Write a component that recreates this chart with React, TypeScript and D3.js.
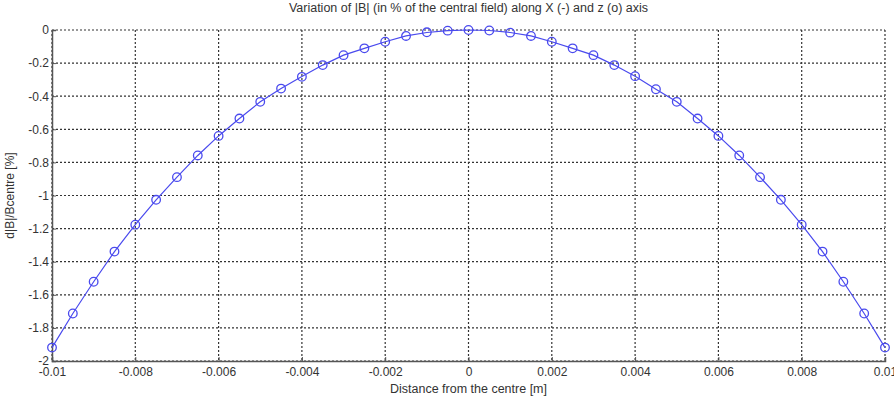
import React, { useEffect, useRef } from "react";
import * as d3 from "d3";

// positions along the axis [m]
const distance = [
  -0.01, -0.0095, -0.009, -0.0085, -0.008, -0.0075, -0.007, -0.0065, -0.006, -0.0055,
  -0.005, -0.0045, -0.004, -0.0035, -0.003, -0.0025, -0.002, -0.0015, -0.001, -0.0005,
  0, 0.0005, 0.001, 0.0015, 0.002, 0.0025, 0.003, 0.0035, 0.004, 0.0045,
  0.005, 0.0055, 0.006, 0.0065, 0.007, 0.0075, 0.008, 0.0085, 0.009, 0.0095, 0.01,
];

// dB/Bcentre along X (line)
const alongX = [
  -1.919, -1.713, -1.521, -1.339, -1.176, -1.026, -0.889, -0.758, -0.64, -0.535,
  -0.434, -0.354, -0.281, -0.212, -0.152, -0.111, -0.071, -0.036, -0.015, -0.004,
  0, -0.003, -0.015, -0.036, -0.071, -0.111, -0.152, -0.212, -0.279, -0.358,
  -0.434, -0.535, -0.64, -0.758, -0.889, -1.026, -1.176, -1.339, -1.521, -1.713, -1.919,
];

// dB/Bcentre along z (circles)
const alongZ = [
  -1.919, -1.713, -1.521, -1.339, -1.176, -1.026, -0.889, -0.758, -0.64, -0.535,
  -0.434, -0.354, -0.283, -0.212, -0.152, -0.111, -0.071, -0.036, -0.014, -0.004,
  0, -0.003, -0.016, -0.036, -0.071, -0.111, -0.152, -0.212, -0.279, -0.358,
  -0.434, -0.535, -0.64, -0.758, -0.889, -1.026, -1.176, -1.339, -1.521, -1.713, -1.919,
];

const xTicks = [-0.01, -0.008, -0.006, -0.004, -0.002, 0, 0.002, 0.004, 0.006, 0.008, 0.01];
const yTicks = [0, -0.2, -0.4, -0.6, -0.8, -1, -1.2, -1.4, -1.6, -1.8, -2];

const width = 894;
const height = 399;
const font = "'Liberation Sans', Arial, sans-serif";
const blue = "#4a4aee";

const App: React.FC = () => {
  const d3Container = useRef<SVGSVGElement>(null);

  useEffect(() => {
    if (!d3Container.current) return;
    const margin = { top: 30, right: 9, bottom: 38, left: 52 };
    const w = width - margin.left - margin.right;
    const h = height - margin.top - margin.bottom;

    const svg = d3.select(d3Container.current).html("");
    svg.append("rect").attr("width", width).attr("height", height).attr("fill", "#fff");
    const g = svg.append("g").attr("transform", `translate(${margin.left},${margin.top})`);

    const x = d3.scaleLinear().domain([-0.01, 0.01]).range([0, w]);
    const y = d3.scaleLinear().domain([-2, 0]).range([h, 0]);

    // grid
    g.append("g")
      .selectAll("line")
      .data(xTicks)
      .join("line")
      .attr("x1", (d) => x(d))
      .attr("x2", (d) => x(d))
      .attr("y1", 0)
      .attr("y2", h)
      .attr("stroke", "#333")
      .attr("stroke-width", 1.2)
      .attr("stroke-dasharray", "2,2");
    g.append("g")
      .selectAll("line")
      .data(yTicks)
      .join("line")
      .attr("x1", 0)
      .attr("x2", w)
      .attr("y1", (d) => y(d))
      .attr("y2", (d) => y(d))
      .attr("stroke", "#333")
      .attr("stroke-width", 1.2)
      .attr("stroke-dasharray", "2,2");

    // axes
    const xAxis = g
      .append("g")
      .attr("transform", `translate(0,${h})`)
      .call(
        d3.axisBottom(x).tickValues(xTicks).tickSize(-4).tickPadding(6)
          .tickFormat((d) => (d === 0 ? "0" : String(+d)))
      );
    const yAxis = g
      .append("g")
      .call(d3.axisLeft(y).tickValues(yTicks).tickSize(-4).tickPadding(3).tickFormat((d) => String(+d)));
    [xAxis, yAxis].forEach((a) => {
      a.select(".domain").attr("stroke", "#555").attr("stroke-width", 1.5);
      a.selectAll(".tick line").attr("stroke", "#555");
      a.selectAll("text").attr("font-family", font).attr("font-size", 12).attr("fill", "#333");
    });

    // line along X
    const line = d3
      .line<number>()
      .x((_d, i) => x(distance[i]))
      .y((d) => y(d));
    g.append("path")
      .datum(alongX)
      .attr("fill", "none")
      .attr("stroke", blue)
      .attr("stroke-width", 1.2)
      .attr("d", line);

    // circles along z
    g.append("g")
      .selectAll("circle")
      .data(alongZ)
      .join("circle")
      .attr("cx", (_d, i) => x(distance[i]))
      .attr("cy", (d) => y(d))
      .attr("r", 4.3)
      .attr("fill", "none")
      .attr("stroke", blue)
      .attr("stroke-width", 1.3);

    // labels
    svg.append("text")
      .attr("x", margin.left + w / 2)
      .attr("y", 12)
      .attr("text-anchor", "middle")
      .attr("font-family", font)
      .attr("font-size", 12.5)
      .attr("fill", "#333")
      .text("Variation of |B| (in % of the central field) along X (-) and z (o) axis");
    svg.append("text")
      .attr("x", margin.left + w / 2)
      .attr("y", 393)
      .attr("text-anchor", "middle")
      .attr("font-family", font)
      .attr("font-size", 12.5)
      .attr("fill", "#333")
      .text("Distance from the centre [m]");
    svg.append("text")
      .attr("transform", `translate(14,${margin.top + h / 2}) rotate(-90)`)
      .attr("text-anchor", "middle")
      .attr("font-family", font)
      .attr("font-size", 12)
      .attr("fill", "#333")
      .text("d|B|/Bcentre [%]");
  }, []);

  return (
    <svg
      ref={d3Container}
      width={width}
      height={height}
      style={{ position: "absolute", left: 0, top: 0 }}
    />
  );
};

export default App;
